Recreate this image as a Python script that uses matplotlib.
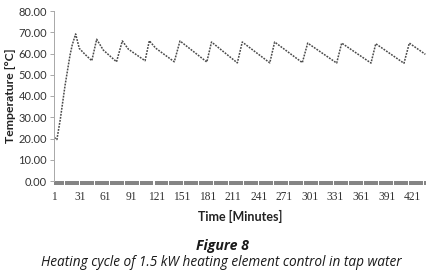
import numpy as np
import matplotlib
matplotlib.use("Agg")
import matplotlib.pyplot as plt
import matplotlib.transforms as mtransforms

# ---- data ----
minutes = [1, 4, 8, 13.6, 19.4, 22, 26, 30.3, 37, 45,
           50.7, 58.5, 74,
           80.8, 88, 107.5,
           112.5, 120, 141.8,
           148.5, 180,
           185.5, 215.8,
           221.6, 253.9,
           259.6, 292.1,
           298.4, 332.4,
           338.3, 372.7,
           378.3, 411.4,
           417.7, 436.5]
temps = [20.5, 19.5, 29.0, 45.0, 59.2, 64.0, 69.2, 62.4, 59.6, 56.6,
         66.7, 61.6, 56.1,
         65.9, 62.0, 56.6,
         66.0, 62.5, 56.1,
         65.9, 56.0,
         65.4, 55.6,
         65.4, 55.6,
         65.4, 55.7,
         64.9, 55.5,
         64.9, 55.5,
         64.6, 55.4,
         64.9, 59.6]
xtick_labels = [1, 31, 61, 91, 121, 151, 181, 211, 241, 271, 301, 331, 361, 391, 421]
yticks = [0, 10, 20, 30, 40, 50, 60, 70, 80]

W, H = 431, 277
fig = plt.figure(figsize=(W / 100, H / 100), dpi=100)
ax = fig.add_axes([53.9 / W, (H - 181) / H, 372.3 / W, 170 / H])

ax.plot(minutes, temps, color="#4a4a4a", lw=1.1, ls=(0, (1.2, 0.8)))

ax.set_xlim(0.5, 437.5)
ax.set_ylim(0, 80)

# y axis
ax.set_yticks(yticks)
ax.set_yticklabels([f"{v:.2f}" for v in yticks], fontfamily="Lato", fontsize=8.0, color="#333333")
ax.tick_params(axis="y", direction="out", length=3, width=0.7, color="#a8a8a8", pad=2)

# x axis
ax.set_xticks(xtick_labels)
ax.set_xticklabels([str(v) for v in xtick_labels], fontfamily="Liberation Serif", fontsize=8.3, color="#333333")
ax.tick_params(axis="x", length=0, pad=7)

for s in ["top", "right", "bottom"]:
    ax.spines[s].set_visible(False)
ax.spines["left"].set_color("#a8a8a8")
ax.spines["left"].set_linewidth(0.7)

# dense category tick band along the x axis
trans = mtransforms.blended_transform_factory(ax.transData, ax.transAxes)
gaps = np.arange(12.7, 437.5, 17.55)
edges = np.concatenate([[0.5], gaps, [437.5]])
for a, b in zip(edges[:-1], edges[1:]):
    ax.add_patch(plt.Rectangle((a + 0.6, -0.024), (b - a) - 1.2, 0.024,
                               transform=trans, color="#858585", lw=0, clip_on=False))

ax.set_ylabel("Temperature [°C]", fontfamily="Lato", fontweight="bold", fontsize=8.8,
              color="#222222", labelpad=2)
ax.set_xlabel("Time [Minutes]", fontfamily="Lato", fontweight="bold", fontsize=9.0,
              color="#222222", labelpad=5)

fig.text(222 / W, 1 - 246 / H, "Figure 8", fontfamily="Open Sans", fontweight="bold",
         fontstyle="italic", fontsize=10.2, ha="center", va="center", color="#1a1a1a")
fig.text(221 / W, 1 - 263 / H, "Heating cycle of 1.5 kW heating element control in tap water",
         fontfamily="Open Sans", fontstyle="italic", fontsize=9.8, ha="center", va="center",
         color="#1a1a1a")

fig.savefig("out.png", dpi=100)
